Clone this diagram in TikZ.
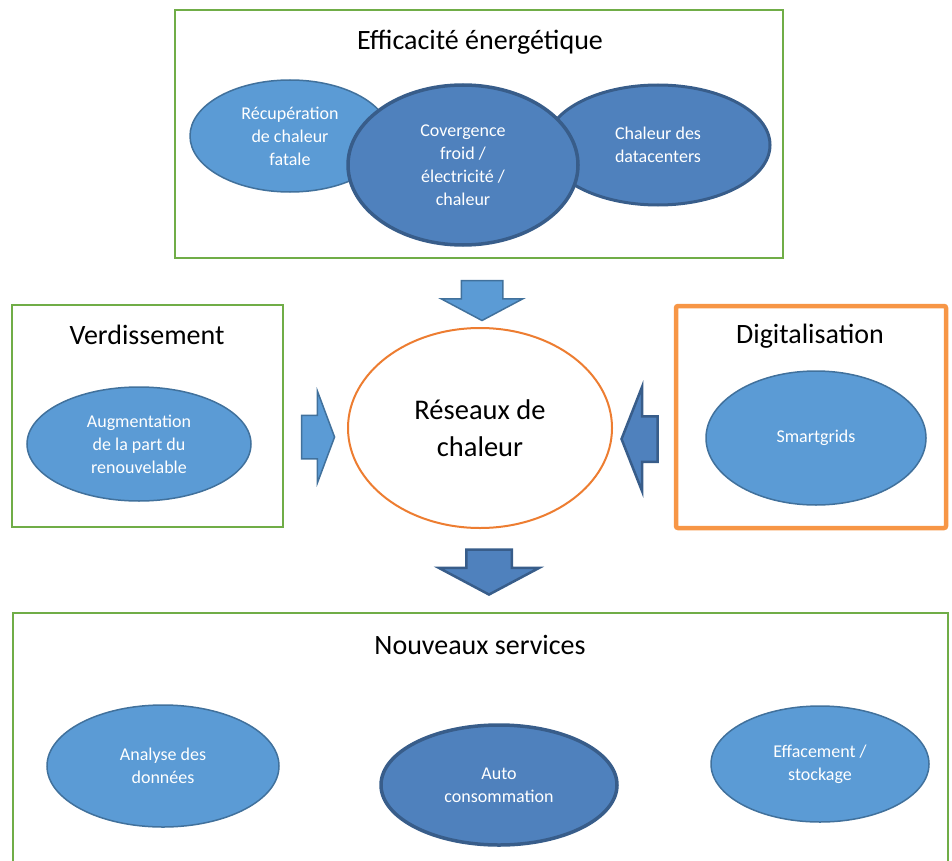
\documentclass[tikz,border=0pt]{standalone}
\usepackage{fontspec}
\setmainfont{Carlito}
\usetikzlibrary{shapes.geometric, shapes.arrows, positioning}
\definecolor{grn}{HTML}{70AD47}
\definecolor{orng}{HTML}{ED7D31}
\definecolor{lorng}{HTML}{F79646}
\definecolor{lblue}{HTML}{5B9BD5}
\definecolor{lbord}{HTML}{41719C}
\definecolor{dblue}{HTML}{4F81BD}
\definecolor{dbord}{HTML}{385D8A}

\begin{document}
\begin{tikzpicture}[x=1pt, y=-1pt,
  frame/.style={draw=grn, line width=2pt, inner sep=0pt},
  heading/.style={font=\fontsize{28}{34}\selectfont},
  bubble/.style={ellipse, draw=lbord, fill=lblue, line width=1.5pt, inner sep=0pt,
    text=white, align=center, font=\fontsize{18}{23}\selectfont},
  darkbubble/.style={bubble, draw=dbord, fill=dblue, line width=3.5pt},
  bigarrow/.style={single arrow, draw=lbord, fill=lblue, line width=1.5pt, inner xsep=0pt,
    single arrow head indent=0pt},
  darkarrow/.style={bigarrow, draw=dbord, fill=dblue, line width=2.5pt}]

  \useasboundingbox (0,0) rectangle (952,861);

  % efficacite energetique
  \node[frame, minimum width=608pt, minimum height=248pt] (effbox) at (479,134) {};
  \node[heading] (eff) at (480,42) {Efficacité énergétique};
  \node[bubble, minimum width=200pt, minimum height=112pt] (recup) at (290,136)
    {Récupération\\de chaleur\\fatale};
  \node[darkbubble, line width=3pt, minimum width=224pt, minimum height=120pt] (dc) at (658,145)
    {Chaleur des\\datacenters};
  \node[darkbubble, minimum width=230pt, minimum height=160pt] (conv) at (463,165)
    {Covergence\\froid /\\électricité /\\chaleur};

  % verdissement
  \node[frame, minimum width=271pt, minimum height=222pt] (verdbox) at (147.5,416) {};
  \node[heading] (verd) at (147,335) {Verdissement};
  \node[bubble, minimum width=224pt, minimum height=114pt] (renouv) at (139,444)
    {Augmentation\\de la part du\\renouvelable};

  % reseaux
  \node[ellipse, draw=orng, fill=white, line width=2pt, minimum width=264pt, minimum height=200pt,
    align=center, font=\fontsize{28.5}{37}\selectfont] (rdc) at (480,428) {Réseaux de\\chaleur};

  % digitalisation
  \node[draw=lorng, line width=4.5pt, rounded corners=2pt, minimum width=270pt, minimum height=222pt]
    (digitbox) at (811,417) {};
  \node[heading] (digit) at (810,336) {Digitalisation};
  \node[bubble, minimum width=220pt, minimum height=134pt] (smart) at (816,438) {Smartgrids};

  % nouveaux services
  \node[frame, minimum width=935pt, minimum height=287pt] (nservbox) at (480.5,756.5) {};
  \node[heading] (nserv) at (480,645) {Nouveaux services};
  \node[bubble, minimum width=232pt, minimum height=122pt] (anal) at (163,766)
    {Analyse des\\données};
  \node[darkbubble, minimum width=236pt, minimum height=120pt] (auto) at (499,785)
    {Auto\\consommation};
  \node[bubble, minimum width=218pt, minimum height=116pt] (effac) at (820,764)
    {Effacement /\\stockage};

  % fleches
  \node[bigarrow, rotate=-90, minimum height=40pt, inner ysep=20pt,
    single arrow head extend=20pt, single arrow tip angle=124] (a1) at (482,295) {};
  \node[bigarrow, minimum height=33pt, inner ysep=21pt,
    single arrow head extend=24pt, single arrow tip angle=139] (a2) at (314,437) {};
  \node[darkarrow, rotate=180, minimum height=36pt, inner ysep=21.5pt,
    single arrow head extend=29.5pt, single arrow tip angle=137] (a3) at (644,439) {};
  \node[darkarrow, rotate=-90, minimum height=45pt, inner ysep=21.5pt,
    single arrow head extend=27.5pt, single arrow tip angle=124] (a4) at (489,566) {};
\end{tikzpicture}
\end{document}
